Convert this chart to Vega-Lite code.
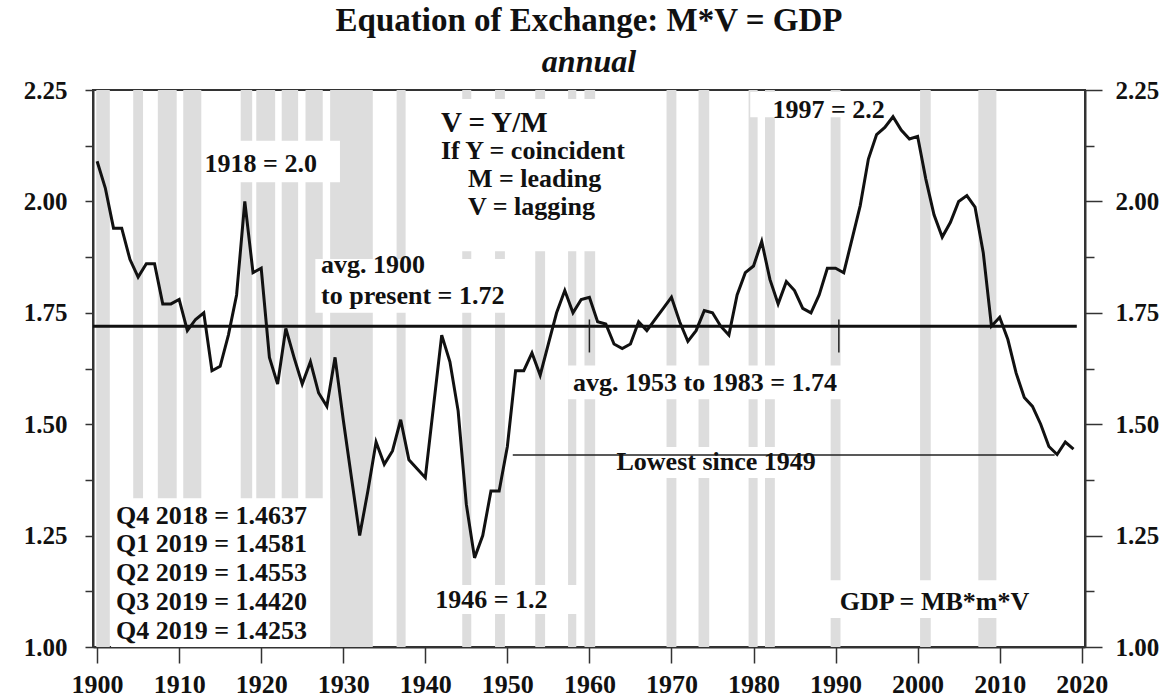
{
  "$schema": "https://vega.github.io/schema/vega-lite/v6.json",
  "width": 992,
  "height": 557,
  "autosize": {"type": "none"},
  "padding": {"left": 93, "top": 90, "right": 85, "bottom": 51},
  "background": "white",
  "config": {
    "font": "Liberation Serif",
    "view": {"stroke": "#333333", "strokeWidth": 2},
    "axis": {"grid": false, "labelFont": "Liberation Serif", "labelFontWeight": "bold", "labelFontSize": 26, "labelColor": "#111111", "domainColor": "#333333", "domainWidth": 2, "tickColor": "#333333", "tickWidth": 1.5, "title": null}
  },
  "title": {
    "text": "Equation of Exchange: M*V = GDP",
    "subtitle": "annual",
    "font": "Liberation Serif",
    "subtitleFont": "Liberation Serif",
    "fontSize": 33,
    "fontWeight": "bold",
    "subtitleFontSize": 32,
    "subtitleFontStyle": "italic",
    "subtitleFontWeight": "bold",
    "color": "#111111",
    "subtitleColor": "#111111",
    "anchor": "middle",
    "offset": 0,
    "subtitlePadding": 9
  },
  "datasets": {
    "recessions": [
      {"start": 1899.9, "end": 1901.55}, {"start": 1904.4, "end": 1905.6}, {"start": 1907.4, "end": 1909.7},
      {"start": 1910.5, "end": 1912.7}, {"start": 1917.5, "end": 1918.9}, {"start": 1919.4, "end": 1921.7},
      {"start": 1922.5, "end": 1924.5}, {"start": 1925.4, "end": 1927.5}, {"start": 1928.4, "end": 1933.6},
      {"start": 1936.5, "end": 1937.6}, {"start": 1944.5, "end": 1945.6}, {"start": 1948.5, "end": 1949.7},
      {"start": 1953.4, "end": 1954.6}, {"start": 1957.4, "end": 1958.4}, {"start": 1959.4, "end": 1960.7},
      {"start": 1969.4, "end": 1970.6}, {"start": 1973.3, "end": 1974.6}, {"start": 1979.4, "end": 1980.5},
      {"start": 1981.4, "end": 1982.6}, {"start": 1989.4, "end": 1990.6}, {"start": 2000.3, "end": 2001.6},
      {"start": 2007.4, "end": 2009.6}
    ],
    "boxes": [
      {"x": 1913.5, "x2": 1929.6, "y": 2.136, "y2": 2.043},
      {"x": 1941.3, "x2": 1967.9, "y": 2.23, "y2": 1.888},
      {"x": 1926.6, "x2": 1951.0, "y": 1.871, "y2": 1.75},
      {"x": 1957.4, "x2": 1991.1, "y": 1.632, "y2": 1.556},
      {"x": 1962.5, "x2": 1986.6, "y": 1.449, "y2": 1.379},
      {"x": 1941.0, "x2": 1958.6, "y": 1.139, "y2": 1.074},
      {"x": 1901.7, "x2": 1928.4, "y": 1.334, "y2": 1.0},
      {"x": 1988.7, "x2": 2010.0, "y": 1.15, "y2": 1.065},
      {"x": 1979.6, "x2": 1996.6, "y": 2.246, "y2": 2.189}
    ],
    "avgline": [{"x": 1899.5, "x2": 2019.4, "y": 1.72}],
    "lowline": [{"x": 1950.66, "x2": 2016.7, "y": 1.431}],
    "avgticks": [{"x": 1960.0, "y": 1.661, "y2": 1.735}, {"x": 1990.4, "y": 1.661, "y2": 1.735}],
    "series": [
      {"year": 1900, "v": 2.09}, {"year": 1901, "v": 2.03}, {"year": 1902, "v": 1.94}, {"year": 1903, "v": 1.94},
      {"year": 1904, "v": 1.87}, {"year": 1905, "v": 1.83}, {"year": 1906, "v": 1.86}, {"year": 1907, "v": 1.86},
      {"year": 1908, "v": 1.77}, {"year": 1909, "v": 1.77}, {"year": 1910, "v": 1.78}, {"year": 1911, "v": 1.71},
      {"year": 1912, "v": 1.735}, {"year": 1913, "v": 1.75}, {"year": 1914, "v": 1.62}, {"year": 1915, "v": 1.63},
      {"year": 1916, "v": 1.7}, {"year": 1917, "v": 1.79}, {"year": 1918, "v": 2.0}, {"year": 1919, "v": 1.84},
      {"year": 1920, "v": 1.85}, {"year": 1921, "v": 1.65}, {"year": 1922, "v": 1.59}, {"year": 1923, "v": 1.715},
      {"year": 1924, "v": 1.65}, {"year": 1925, "v": 1.59}, {"year": 1926, "v": 1.64}, {"year": 1927, "v": 1.57},
      {"year": 1928, "v": 1.54}, {"year": 1929, "v": 1.65}, {"year": 1930, "v": 1.51}, {"year": 1931, "v": 1.38},
      {"year": 1932, "v": 1.25}, {"year": 1933, "v": 1.35}, {"year": 1934, "v": 1.46}, {"year": 1935, "v": 1.41},
      {"year": 1936, "v": 1.44}, {"year": 1937, "v": 1.51}, {"year": 1938, "v": 1.42}, {"year": 1939, "v": 1.4},
      {"year": 1940, "v": 1.38}, {"year": 1941, "v": 1.54}, {"year": 1942, "v": 1.7}, {"year": 1943, "v": 1.64},
      {"year": 1944, "v": 1.53}, {"year": 1945, "v": 1.32}, {"year": 1946, "v": 1.2}, {"year": 1947, "v": 1.25},
      {"year": 1948, "v": 1.35}, {"year": 1949, "v": 1.35}, {"year": 1950, "v": 1.45}, {"year": 1951, "v": 1.62},
      {"year": 1952, "v": 1.62}, {"year": 1953, "v": 1.66}, {"year": 1954, "v": 1.61}, {"year": 1955, "v": 1.68},
      {"year": 1956, "v": 1.75}, {"year": 1957, "v": 1.8}, {"year": 1958, "v": 1.75}, {"year": 1959, "v": 1.78},
      {"year": 1960, "v": 1.785}, {"year": 1961, "v": 1.73}, {"year": 1962, "v": 1.725}, {"year": 1963, "v": 1.68},
      {"year": 1964, "v": 1.67}, {"year": 1965, "v": 1.68}, {"year": 1966, "v": 1.73}, {"year": 1967, "v": 1.71},
      {"year": 1968, "v": 1.735}, {"year": 1969, "v": 1.76}, {"year": 1970, "v": 1.785}, {"year": 1971, "v": 1.73},
      {"year": 1972, "v": 1.686}, {"year": 1973, "v": 1.71}, {"year": 1974, "v": 1.755}, {"year": 1975, "v": 1.75},
      {"year": 1976, "v": 1.72}, {"year": 1977, "v": 1.7}, {"year": 1978, "v": 1.79}, {"year": 1979, "v": 1.84},
      {"year": 1980, "v": 1.855}, {"year": 1981, "v": 1.91}, {"year": 1982, "v": 1.825}, {"year": 1983, "v": 1.77},
      {"year": 1984, "v": 1.82}, {"year": 1985, "v": 1.8}, {"year": 1986, "v": 1.76}, {"year": 1987, "v": 1.75},
      {"year": 1988, "v": 1.79}, {"year": 1989, "v": 1.85}, {"year": 1990, "v": 1.85}, {"year": 1991, "v": 1.84},
      {"year": 1992, "v": 1.915}, {"year": 1993, "v": 1.99}, {"year": 1994, "v": 2.095}, {"year": 1995, "v": 2.15},
      {"year": 1996, "v": 2.166}, {"year": 1997, "v": 2.19}, {"year": 1998, "v": 2.16}, {"year": 1999, "v": 2.14},
      {"year": 2000, "v": 2.146}, {"year": 2001, "v": 2.05}, {"year": 2002, "v": 1.97}, {"year": 2003, "v": 1.92},
      {"year": 2004, "v": 1.953}, {"year": 2005, "v": 2.0}, {"year": 2006, "v": 2.013}, {"year": 2007, "v": 1.987},
      {"year": 2008, "v": 1.885}, {"year": 2009, "v": 1.72}, {"year": 2010, "v": 1.74}, {"year": 2011, "v": 1.69},
      {"year": 2012, "v": 1.615}, {"year": 2013, "v": 1.56}, {"year": 2014, "v": 1.54}, {"year": 2015, "v": 1.5},
      {"year": 2016, "v": 1.45}, {"year": 2017, "v": 1.432}, {"year": 2018, "v": 1.46}, {"year": 2019, "v": 1.444}
    ],
    "labels": [
      {"x": 1913.1, "y": 2.084, "text": "1918 = 2.0"},
      {"x": 1941.9, "y": 2.113, "text": "If Y = coincident"},
      {"x": 1945.2, "y": 2.05, "text": "M = leading"},
      {"x": 1945.2, "y": 1.987, "text": "V = lagging"},
      {"x": 1927.3, "y": 1.857, "text": "avg. 1900"},
      {"x": 1927.3, "y": 1.787, "text": "to present = 1.72"},
      {"x": 1958.0, "y": 1.593, "text": "avg. 1953 to 1983 = 1.74"},
      {"x": 1963.3, "y": 1.416, "text": "Lowest since 1949"},
      {"x": 1982.3, "y": 2.204, "text": "1997 = 2.2"},
      {"x": 1941.2, "y": 1.105, "text": "1946 = 1.2"},
      {"x": 1990.5, "y": 1.101, "text": "GDP = MB*m*V"},
      {"x": 1902.3, "y": 1.294, "text": "Q4 2018 = 1.4637"},
      {"x": 1902.3, "y": 1.231, "text": "Q1 2019 = 1.4581"},
      {"x": 1902.3, "y": 1.165, "text": "Q2 2019 = 1.4553"},
      {"x": 1902.3, "y": 1.101, "text": "Q3 2019 = 1.4420"},
      {"x": 1902.3, "y": 1.037, "text": "Q4 2019 = 1.4253"}
    ],
    "biglabels": [
      {"x": 1941.9, "y": 2.176, "text": "V = Y/M"}
    ]
  },
  "resolve": {"axis": {"y": "independent"}},
  "layer": [
    {
      "data": {"name": "recessions"},
      "mark": {"type": "rect", "color": "#dddddd"},
      "encoding": {
        "x": {"field": "start", "type": "quantitative", "title": null, "scale": {"domain": [1899.5, 2020.4], "nice": false, "zero": false},
              "axis": {"values": [1900, 1910, 1920, 1930, 1940, 1950, 1960, 1970, 1980, 1990, 2000, 2010, 2020], "format": "d", "tickSize": 16, "labelPadding": 8}},
        "x2": {"field": "end"}
      }
    },
    {
      "data": {"name": "boxes"},
      "mark": {"type": "rect", "color": "white"},
      "encoding": {
        "x": {"field": "x", "type": "quantitative", "title": null},
        "x2": {"field": "x2"},
        "y": {"field": "y", "type": "quantitative", "title": null, "scale": {"domain": [1.0, 2.25], "nice": false, "zero": false},
              "axis": {"orient": "left", "values": [1.0, 1.125, 1.25, 1.375, 1.5, 1.625, 1.75, 1.875, 2.0, 2.125, 2.25],
                       "labelExpr": "round(datum.value*1000) % 250 == 0 ? format(datum.value, '.2f') : ''", "tickSize": 8, "labelPadding": 18, "labelFontSize": 25}},
        "y2": {"field": "y2"}
      }
    },
    {
      "data": {"name": "avgline"},
      "mark": {"type": "rule", "color": "#111111", "strokeWidth": 3},
      "encoding": {
        "x": {"field": "x", "type": "quantitative", "title": null},
        "x2": {"field": "x2"},
        "y": {"field": "y", "type": "quantitative", "title": null,
              "axis": {"orient": "right", "values": [1.0, 1.125, 1.25, 1.375, 1.5, 1.625, 1.75, 1.875, 2.0, 2.125, 2.25],
                       "labelExpr": "round(datum.value*1000) % 250 == 0 ? format(datum.value, '.2f') : ''",
                       "tickSize": {"condition": {"test": "round(datum.value*1000) % 250 != 0", "value": 9}, "value": 17},
                       "labelPadding": 13, "labelFontSize": 25}}
      }
    },
    {
      "data": {"name": "lowline"},
      "mark": {"type": "rule", "color": "#222222", "strokeWidth": 1.5},
      "encoding": {
        "x": {"field": "x", "type": "quantitative", "title": null},
        "x2": {"field": "x2"},
        "y": {"field": "y", "type": "quantitative", "title": null, "axis": null}
      }
    },
    {
      "data": {"name": "avgticks"},
      "mark": {"type": "rule", "color": "#222222", "strokeWidth": 1.5},
      "encoding": {
        "x": {"field": "x", "type": "quantitative", "title": null},
        "y": {"field": "y", "type": "quantitative", "title": null, "axis": null},
        "y2": {"field": "y2"}
      }
    },
    {
      "data": {"name": "series"},
      "mark": {"type": "line", "color": "#111111", "strokeWidth": 3},
      "encoding": {
        "x": {"field": "year", "type": "quantitative", "title": null},
        "y": {"field": "v", "type": "quantitative", "title": null, "axis": null}
      }
    },
    {
      "data": {"name": "labels"},
      "mark": {"type": "text", "align": "left", "baseline": "middle", "font": "Liberation Serif", "fontWeight": "bold", "fontSize": 26, "color": "#111111"},
      "encoding": {
        "x": {"field": "x", "type": "quantitative", "title": null},
        "y": {"field": "y", "type": "quantitative", "title": null, "axis": null},
        "text": {"field": "text"}
      }
    },
    {
      "data": {"name": "biglabels"},
      "mark": {"type": "text", "align": "left", "baseline": "middle", "font": "Liberation Serif", "fontWeight": "bold", "fontSize": 29, "color": "#111111"},
      "encoding": {
        "x": {"field": "x", "type": "quantitative", "title": null},
        "y": {"field": "y", "type": "quantitative", "title": null, "axis": null},
        "text": {"field": "text"}
      }
    }
  ]
}
